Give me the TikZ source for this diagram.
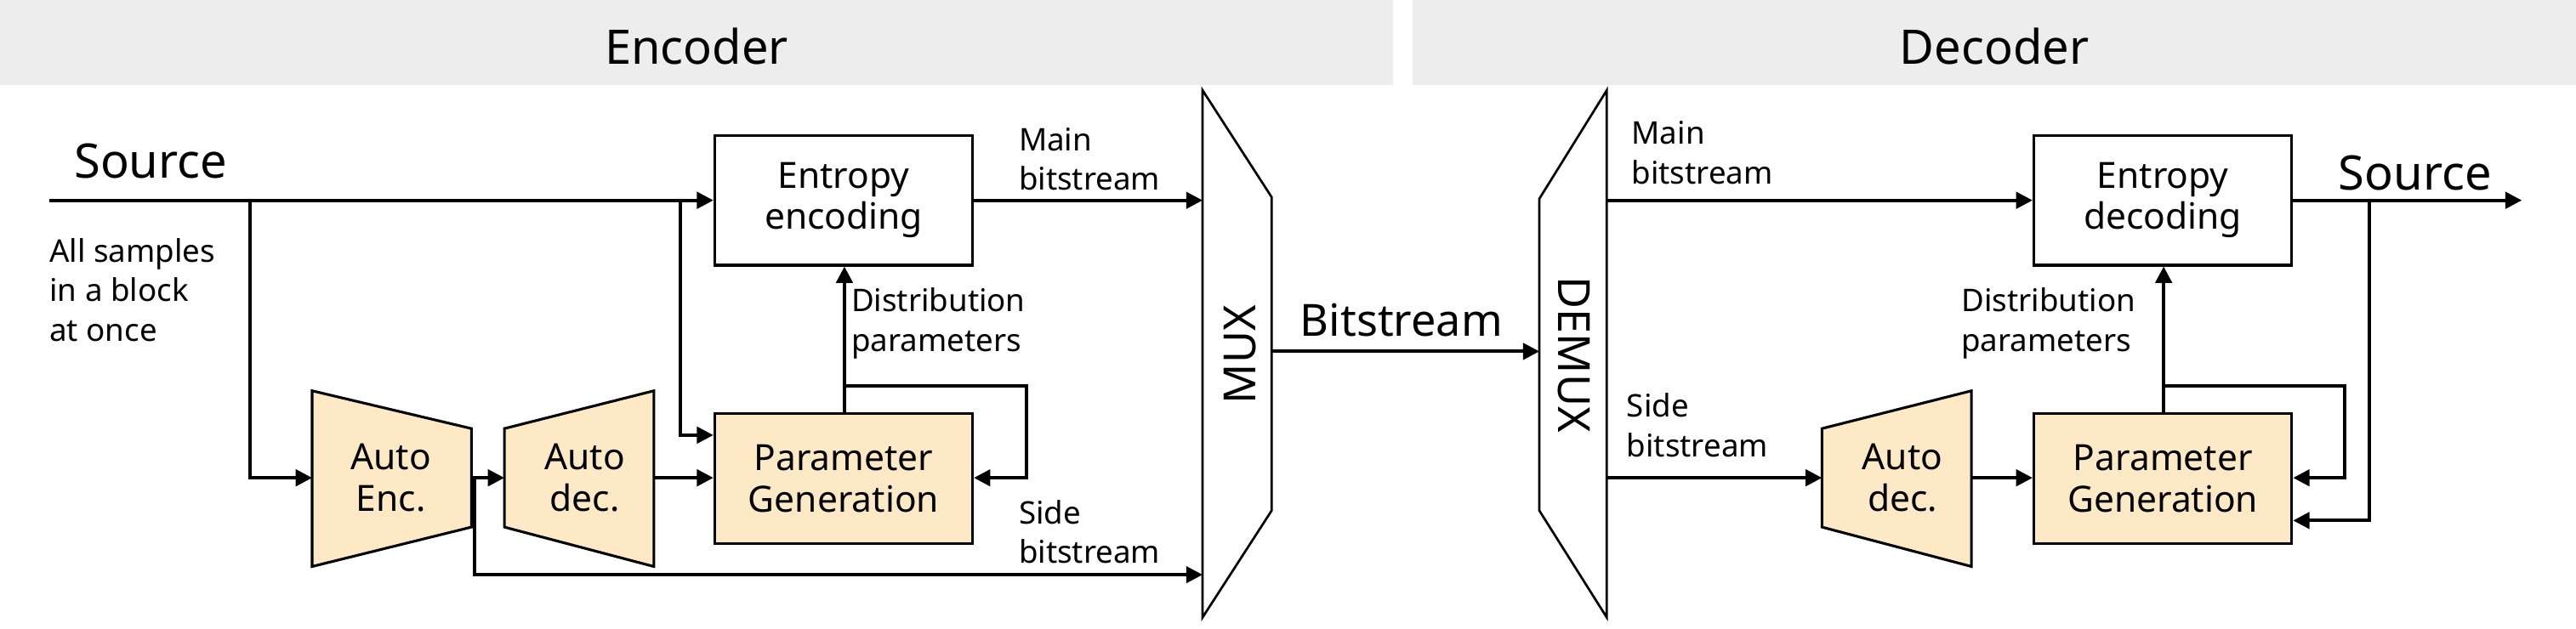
\documentclass[tikz,border=0pt]{standalone}
\usepackage{fontspec}
\setmainfont{Noto Sans}
\usetikzlibrary{arrows.meta}
\begin{document}
\begin{tikzpicture}[x=1pt,y=-1pt,
 line/.style={line width=2pt},
 arr/.style={line width=2pt,-{Triangle[length=10pt,width=10pt]}},
 box/.style={draw,line width=1.6pt,minimum width=157pt,minimum height=79pt,align=center,font=\fontsize{22}{25}\selectfont,inner sep=0pt},
 fbox/.style={box,fill=yellow!20!orange!20},
 trap/.style={draw,line width=1.6pt,fill=yellow!20!orange!20},
 lab/.style={font=\fontsize{19}{24}\selectfont,align=left,inner sep=0pt},
 big/.style={font=\fontsize{29}{32}\selectfont,inner sep=0pt},
 head/.style={fill=black!7,draw=none}]
\useasboundingbox (0,0) rectangle (1568,383);
% headers
\fill[head] (0,0) rectangle (848,52);
\fill[head] (860,0) rectangle (1568,52);
\node[big] (henc) at (424,28) {Encoder};
\node[big] (hdec) at (1214,28) {Decoder};
% ---------- encoder ----------
\node[box] (ee) at (513.5,122) {Entropy\\encoding};
\node[fbox] (pg) at (513.5,291.5) {Parameter\\Generation};
\filldraw[trap] (190,238) -- (287,261) -- (287,321) -- (190,345) -- cycle;
\node[align=center,font=\fontsize{22}{25}\selectfont] (ae) at (238,291) {Auto\\Enc.};
\filldraw[trap] (307,261) -- (398,238) -- (398,345) -- (307,321) -- cycle;
\node[align=center,font=\fontsize{22}{25}\selectfont] (ad) at (356,291) {Auto\\dec.};
\draw[line width=1.4pt] (732,55) -- (774,120) -- (774,311) -- (732,376) -- cycle;
\node[rotate=90,big,font=\fontsize{27}{30}\selectfont] (mux) at (755,216) {MUX};
\coordinate (srcL) at (30,122);
\node[big,anchor=south west] (src) at (45,109) {Source};
\node[lab,anchor=north west] (all) at (30,145) {All samples\\in a block\\at once};
\draw[arr] (srcL) -- (ee.west);
\coordinate (b1) at (152,122);
\draw[arr] (b1) |- (190,291);
\coordinate (b2) at (414,122);
\draw[arr] (b2) |- (pg.west |- 0,265);
\draw[arr] (287,291) -- (307,291);
\draw[arr] (398,291) -- (pg.west |- 0,291);
\draw[arr] (pg.north -| 514,0) -- (ee.south -| 514,0);
\draw[arr] (514,235) -- (625,235) |- (pg.east |- 0,291);
\draw[arr] (289,291) |- (732,350);
\draw[arr] (ee.east) -- (732,122);
\node[lab,anchor=west] (dp1) at (518,197) {Distribution\\parameters};
\node[lab,anchor=west] (mb1) at (620,97) {Main\\bitstream};
\node[lab,anchor=west] (sb1) at (620,324) {Side\\bitstream};
% middle
\draw[line width=1.4pt] (978,55) -- (978,376) -- (937,311) -- (937,121) -- cycle;
\node[rotate=-90,big,font=\fontsize{27}{30}\selectfont] (demux) at (958,216) {DEMUX};
\draw[arr] (774,214) -- (937,214);
\node[big,font=\fontsize{27}{30}\selectfont,anchor=south] (bs) at (853,205) {Bitstream};
% ---------- decoder ----------
\node[box] (ed) at (1316.5,122) {Entropy\\decoding};
\node[fbox] (pg2) at (1316.5,291.5) {Parameter\\Generation};
\filldraw[trap] (1109,261) -- (1200,238) -- (1200,345) -- (1109,321) -- cycle;
\node[align=center,font=\fontsize{22}{25}\selectfont] (ad2) at (1158,291) {Auto\\dec.};
\draw[arr] (978,122) -- (ed.west);
\coordinate (out) at (1535,122);
\draw[arr] (ed.east) -- (out);
\node[big,anchor=south] (src2) at (1470,116) {Source};
\draw[arr] (1442,122) |- (pg2.east |- 0,317);
\draw[arr] (1317,235) -- (1427,235) |- (pg2.east |- 0,291);
\draw[arr] (pg2.north -| 1317,0) -- (ed.south -| 1317,0);
\draw[arr] (978,291) -- (1109,291);
\draw[arr] (1200,291) -- (pg2.west |- 0,291);
\node[lab,anchor=east,align=left] (dp2) at (1300,197) {Distribution\\parameters};
\node[lab,anchor=west] (mb2) at (993,93) {Main\\bitstream};
\node[lab,anchor=west] (sb2) at (990,259) {Side\\bitstream};
\end{tikzpicture}
\end{document}
